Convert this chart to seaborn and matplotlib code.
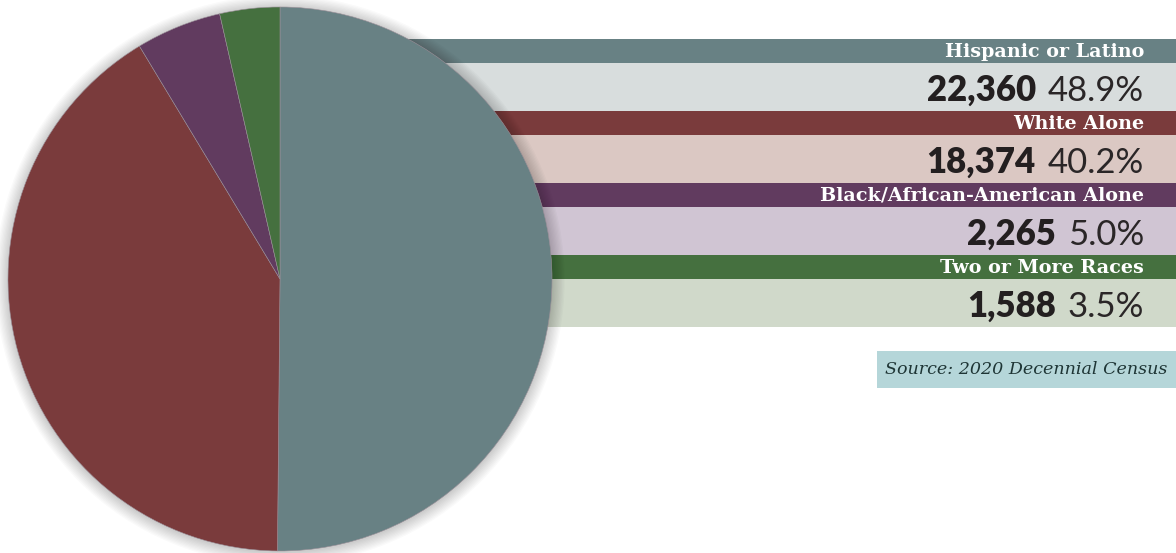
import matplotlib
matplotlib.use("Agg")
import matplotlib.pyplot as plt
import seaborn as sns
from matplotlib.patches import Circle, Rectangle

sns.set_theme(style="white")
plt.rcParams["font.family"] = ["DejaVu Sans"]

# ---- data ----
categories = ["Hispanic or Latino", "White Alone", "Black/African-American Alone", "Two or More Races"]
counts = [22360, 18374, 2265, 1588]
percents = [48.9, 40.2, 5.0, 3.5]
source_text = "Source: 2020 Decennial Census"

dark_colors = ["#688184", "#7a3b3c", "#613b5f", "#45703f"]
light_colors = ["#d8dddd", "#dbc8c3", "#d0c5d3", "#d0d9ca"]

W, H = 1176, 553
fig = plt.figure(figsize=(W / 100, H / 100), dpi=100)
ax = fig.add_axes([0, 0, 1, 1])

# legend bars (pixel layout, y measured from the top)
top0, head_h, body_h = 39, 24, 48
bar_left = 280
for i, cat in enumerate(categories):
    t = top0 + i * (head_h + body_h)
    ax.barh(H - (t + head_h / 2), W - bar_left, left=bar_left, height=head_h,
            color=dark_colors[i], zorder=1, linewidth=0)
    ax.barh(H - (t + head_h + body_h / 2), W - bar_left, left=bar_left, height=body_h,
            color=light_colors[i], zorder=1, linewidth=0)

# pie with soft shadow
cx, cy, r = 280, H - 279, 272
for k in range(10):
    ax.add_patch(Circle((cx, cy - 1), r + 1 + k * 1.3, color="black", alpha=0.018,
                        zorder=2, linewidth=0))
wedges, _ = ax.pie(counts, colors=dark_colors, startangle=90, counterclock=False,
                   center=(cx, cy), radius=r, frame=True,
                   wedgeprops=dict(linewidth=0.4, edgecolor="#9a8f98"))
for w in wedges:
    w.set_zorder(5)

ax.set_xlim(0, W)
ax.set_ylim(0, H)
ax.set_aspect("auto")
ax.axis("off")

fig.canvas.draw()
renderer = fig.canvas.get_renderer()
right_x = 1144
for i, cat in enumerate(categories):
    t = top0 + i * (head_h + body_h)
    ax.text(right_x, H - (t + head_h / 2 + 1), cat, ha="right", va="center",
            family="DejaVu Serif", fontweight="bold", fontsize=13.8, color="white", zorder=6)
    base_y = H - (t + head_h + 38)
    pt = ax.text(right_x, base_y, f"{percents[i]:.1f}%", ha="right", va="baseline",
                 family="Lato", fontweight="normal", fontsize=25, color="#2a2627", zorder=6)
    bb = pt.get_window_extent(renderer=renderer)
    ax.text(bb.x0 - 12, base_y, f"{counts[i]:,}", ha="right", va="baseline",
            family="Lato", fontweight="heavy", fontsize=25, color="#231f20", zorder=6)

# source box
ax.add_patch(Rectangle((877, H - 388), W - 877, 37, color="#b5d6d9", zorder=1, linewidth=0))
ax.text(885, H - 370, source_text, ha="left", va="center", family="DejaVu Serif",
        style="italic", fontsize=12.6, color="#1e3535", zorder=6)

fig.savefig("out.png", dpi=100)
